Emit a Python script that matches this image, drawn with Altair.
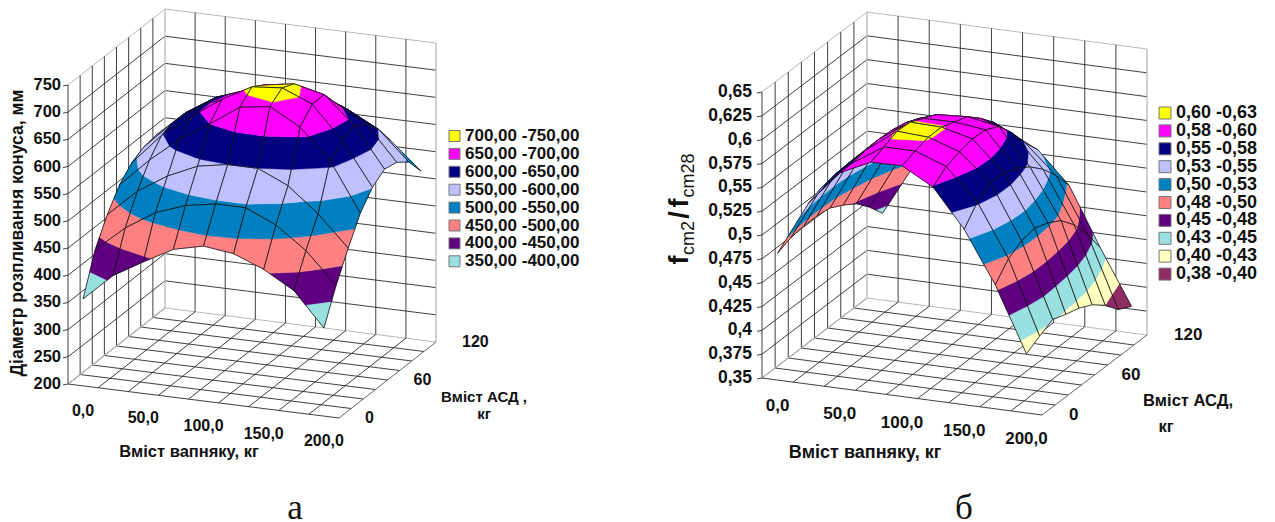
import altair as alt
import pandas as pd

# ---- values ----
LEFT_Z = [  # rows: ASD index 0..8, cols: limestone index 0..8
    [360, 410, 442, 472, 485, 478, 456, 424, 362],
    [433, 480, 515, 535, 545, 545, 520, 480, 423],
    [480, 530, 565, 590, 600, 600, 575, 530, 474],
    [517, 570, 615, 650, 688, 696, 665, 610, 521],
    [540, 598, 640, 678, 708, 713, 690, 630, 551],
    [552, 605, 645, 665, 694, 703, 690, 640, 567],
    [556, 605, 640, 660, 672, 674, 656, 625, 562],
    [545, 590, 620, 640, 650, 650, 627, 598, 545],
    [515, 555, 585, 605, 610, 605, 590, 560, 511],
]
RIGHT_Z = [
    [.483, .540, .576, .5915, .592, .574, .534, .480, .412],
    [.4885, .546, .576, .597, .597, .585, .552, .497, .420],
    [.4906, .549, .579, .603, .601, .590, .562, .505, .427],
    [.4906, .550, .580, .602, .601, .593, .562, .508, .422],
    [.4885, .548, .579, .5955, .596, .592, .556, .503, .418],
    [.481, .541, .576, .589, .591, .585, .547, .495, .411],
    [.472, .530, .570, .5766, .5787, .568, .534, .480, .400],
    [.458, .515, .562, .566, .564, .547, .517, .460, .385],
    [.441, .495, .530, .5536, .545, .529, .496, .435, .378],
]
LEFT_LEVELS = [350, 400, 450, 500, 550, 600, 650, 700, 750]
LEFT_COLORS = ["#99E0E0", "#5F0080", "#FF8080", "#0080C0", "#C0C0FF", "#000080", "#FF00FF", "#FFFF00"]
LEFT_LEGEND = ["350,00 -400,00", "400,00 -450,00", "450,00 -500,00", "500,00 -550,00",
               "550,00 -600,00", "600,00 -650,00", "650,00 -700,00", "700,00 -750,00"]
RIGHT_LEVELS = [.375, .40, .425, .45, .475, .50, .525, .55, .575, .60, .625]
RIGHT_COLORS = ["#8F2C63", "#FFFFC0", "#99E0E0", "#5F0080", "#FF8080", "#0080C0", "#C0C0FF",
                "#000080", "#FF00FF", "#FFFF00"]
RIGHT_LEGEND = ["0,38 -0,40", "0,40 -0,43", "0,43 -0,45", "0,45 -0,48", "0,48 -0,50",
                "0,50 -0,53", "0,53 -0,55", "0,55 -0,58", "0,58 -0,60", "0,60 -0,63"]
LEFT_ZTICKS = [200, 250, 300, 350, 400, 450, 500, 550, 600, 650, 700, 750]
RIGHT_ZTICKS = [.35, .375, .40, .425, .45, .475, .50, .525, .55, .575, .60, .625, .65]
RIGHT_ZLABELS = ["0,35", "0,375", "0,4", "0,425", "0,45", "0,475", "0,5", "0,525", "0,55", "0,575", "0,6", "0,625", "0,65"]
X_LABELS = ["0,0", "50,0", "100,0", "150,0", "200,0"]
A_LABELS = ["0", "60", "120"]

# ---- oblique view of each box (layout) ----
L = dict(o=(68, 384), xv=(271, 34), av=(97, -76), h=299, zmin=200, zmax=750)
R = dict(o=(762, 378), xv=(280, 37), av=(105, -80), h=286, zmin=.35, zmax=.65)
XDIV, ADIV = 9, 8


def proj(b, xf, af, z):
    zf = (z - b["zmin"]) / (b["zmax"] - b["zmin"])
    return (b["o"][0] + xf * b["xv"][0] + af * b["av"][0],
            b["o"][1] + xf * b["xv"][1] + af * b["av"][1] - zf * b["h"])


def clip(poly, level, keep_above):
    out = []
    n = len(poly)
    for k in range(n):
        p, q = poly[k], poly[(k + 1) % n]
        pin = p[2] >= level if keep_above else p[2] <= level
        qin = q[2] >= level if keep_above else q[2] <= level
        if pin:
            out.append(p)
        if pin != qin:
            t = (level - p[2]) / (q[2] - p[2])
            out.append((p[0] + t * (q[0] - p[0]), p[1] + t * (q[1] - p[1]), level))
    return out


rows, rules, pid = [], [], 0


def add_path(pts, fill, stroke, sw):
    global pid
    pid += 1
    for k, p in enumerate(pts):
        rows.append(dict(px=p[0], py=p[1], pid=pid, k=k, fill=fill, stroke=stroke, sw=sw))


def add_surface(b, Z, levels, colors):
    for j in range(7, -1, -1):
        for i in range(8):
            corners = [(i, j), (i + 1, j), (i + 1, j + 1), (i, j + 1)]
            cell = []
            for ci, cj in corners:
                x, y = proj(b, (ci + .5) / XDIV, cj / ADIV, Z[cj][ci])
                cell.append((x, y, Z[cj][ci]))
            for c, col in enumerate(colors):
                poly = clip(cell, levels[c], True)
                if poly:
                    poly = clip(poly, levels[c + 1], False)
                if len(poly) >= 3:
                    add_path(poly + poly[:1], col, col, .4)
            add_path(cell + cell[:1], "transparent", "#111111", .8)


def seg(b, a, c, col="#2a2a2a", w=.9):
    rules.append(dict(x1=a[0], y1=a[1], x2=c[0], y2=c[1], col=col, w=w))


def add_box(b, zticks):
    zl, zh = b["zmin"], b["zmax"]
    grey = "#b0b0b0"
    for z in zticks:
        seg(b, proj(b, 0, 0, z), proj(b, 0, 1, z), grey if z == zh else "#2a2a2a")
        seg(b, proj(b, 0, 1, z), proj(b, 1, 1, z), grey if z in (zh, zl) else "#2a2a2a")
        t = proj(b, 0, 0, z)
        seg(b, (t[0] - 5, t[1] + 1), t, "#2a2a2a")
    for i in range(1, XDIV):
        seg(b, proj(b, i / XDIV, 1, zl), proj(b, i / XDIV, 1, zh))
        seg(b, proj(b, i / XDIV, 0, zl), proj(b, i / XDIV, 1, zl))
    for j in range(1, ADIV):
        seg(b, proj(b, 0, j / ADIV, zl), proj(b, 0, j / ADIV, zh))
        seg(b, proj(b, 0, j / ADIV, zl), proj(b, 1, j / ADIV, zl))
    seg(b, proj(b, 0, 0, zl), proj(b, 0, 0, zh))
    seg(b, proj(b, 0, 1, zl), proj(b, 0, 1, zh), "#b8b8b8", 1.3)
    seg(b, proj(b, 1, 1, zl), proj(b, 1, 1, zh), "#b8b8b8", 1.3)
    seg(b, proj(b, 0, 0, zl), proj(b, 0, 1, zl), "#b8b8b8", 1.2)
    seg(b, proj(b, 0, 0, zl), proj(b, 1, 0, zl))
    seg(b, proj(b, 1, 0, zl), proj(b, 1, 1, zl), "#555555")


add_box(L, LEFT_ZTICKS)
add_box(R, RIGHT_ZTICKS)
add_surface(L, LEFT_Z, LEFT_LEVELS, LEFT_COLORS)
add_surface(R, RIGHT_Z, RIGHT_LEVELS, RIGHT_COLORS)

X = alt.Scale(domain=[8, 1267], nice=False, zero=False)
Y = alt.Scale(domain=[8, 522], nice=False, zero=False, reverse=True)
xe = lambda f: alt.X(f, type="quantitative", scale=X, axis=None)
ye = lambda f: alt.Y(f, type="quantitative", scale=Y, axis=None)

rule_layer = alt.Chart(pd.DataFrame(rules)).mark_rule().encode(
    x=xe("x1"), y=ye("y1"), x2="x2:Q", y2="y2:Q",
    color=alt.Color("col:N", scale=None), strokeWidth=alt.StrokeWidth("w:Q", scale=None))

surface_layer = alt.Chart(pd.DataFrame(rows)).mark_line(strokeJoin="round", interpolate="linear").encode(
    x=xe("px"), y=ye("py"), detail="pid:N", order=alt.Order("k:Q"),
    fill=alt.Fill("fill:N", scale=None), stroke=alt.Stroke("stroke:N", scale=None),
    strokeWidth=alt.StrokeWidth("sw:Q", scale=None))


def text_layer(items, size, align="left", weight="bold", font="Liberation Sans", angle=0):
    return alt.Chart(pd.DataFrame(items, columns=["tx", "ty", "t"])).mark_text(
        font=font, fontSize=size, align=align, baseline="middle", fontWeight=weight,
        angle=angle, color="#111111").encode(x=xe("tx"), y=ye("ty"), text="t:N")


layers = [rule_layer, surface_layer]

# z tick labels
layers.append(text_layer([(61, proj(L, 0, 0, z)[1], str(z)) for z in LEFT_ZTICKS], 16.5, "right"))
layers.append(text_layer([(752, proj(R, 0, 0, z)[1], s) for z, s in zip(RIGHT_ZTICKS, RIGHT_ZLABELS)], 17.5, "right"))
# category labels
for b, dy, sz in ((L, 25, 16), (R, 26, 17)):
    items = []
    for n, s in enumerate(X_LABELS):
        p = proj(b, (2 * n + .5) / XDIV, 0, b["zmin"])
        items.append((p[0], p[1] + dy, s))
    layers.append(text_layer(items, sz, "center"))
for b, dx, sz in ((L, 26, 16), (R, 27, 17)):
    items = []
    for n, s in enumerate(A_LABELS):
        p = proj(b, 1, n / 2, b["zmin"])
        items.append((p[0] + dx, p[1], s))
    layers.append(text_layer(items, sz, "left"))
# legends
for names, colors, x0, y0, side, tx, fs in (
    (LEFT_LEGEND, LEFT_COLORS, 454.5, 136, 121, 465, 17),
    (RIGHT_LEGEND, RIGHT_COLORS, 1165, 113, 144, 1176, 18),
):
    n = len(names)
    sw = pd.DataFrame([dict(sx=x0, sy=y0 + 17.9 * k, c=colors[n - 1 - k]) for k in range(n)])
    layers.append(alt.Chart(sw).mark_square(size=side, opacity=1, stroke="#777777", strokeWidth=1).encode(
        x=xe("sx"), y=ye("sy"), fill=alt.Fill("c:N", scale=None)))
    layers.append(text_layer([(tx, y0 + 17.9 * k, names[n - 1 - k]) for k in range(n)], fs))
# axis titles
layers.append(text_layer([(189, 452, "Вміст вапняку, кг")], 16.5, "center"))
layers.append(text_layer([(865, 453, "Вміст вапняку, кг")], 18, "center"))
layers.append(text_layer([(484, 397, "Вміст АСД ,"), (484, 414, "кг")], 15, "center"))
layers.append(text_layer([(1188, 401, "Вміст АСД,"), (1166, 427, "кг")], 16.5, "center"))
layers.append(text_layer([(18, 233, "Діаметр розпливання конуса, мм")], 17.5, "center", angle=270))
layers.append(text_layer([(680, 260, "f"), (680, 203, "f")], 27, "center", angle=270))
layers.append(text_layer([(680, 215, "/")], 27, "center", angle=270))
layers.append(text_layer([(689, 238, "cm2"), (689, 175.5, "cm28")], 18, "center", weight="normal", angle=270))
# panel letters
layers.append(text_layer([(295, 508, "а"), (964, 508, "б")], 35, "center", weight="normal", font="Liberation Serif"))

chart = alt.layer(*layers).properties(
    width=1259, height=514, padding=0, background="white",
    autosize=alt.AutoSizeParams(type="none")
).configure_view(stroke=None)

chart.save("out.html", embed_options={"renderer": "svg", "actions": False})
